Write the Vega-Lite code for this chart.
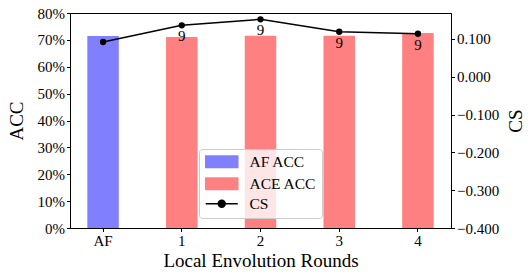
{
  "$schema": "https://vega.github.io/schema/vega-lite/v6.json",
  "width": 381,
  "height": 215,
  "autosize": {"type": "none"},
  "padding": {"left": 70, "top": 13, "right": 81, "bottom": 50},
  "config": {
    "font": "Liberation Serif",
    "view": {"stroke": "black", "strokeWidth": 1},
    "axis": {
      "labelFont": "Liberation Serif",
      "labelFontSize": 15,
      "labelColor": "black",
      "titleFont": "Liberation Serif",
      "titleFontSize": 19,
      "titleFontWeight": "normal",
      "titleColor": "black",
      "domainColor": "black",
      "tickColor": "black",
      "tickSize": 3.5,
      "grid": false,
      "labelPadding": 2
    }
  },
  "data": {
    "values": [
      {"round": "AF", "series": "AF ACC", "acc": 0.7144, "cs": 0.0918, "label": ""},
      {"round": "1", "series": "ACE ACC", "acc": 0.7107, "cs": 0.136, "label": "9"},
      {"round": "2", "series": "ACE ACC", "acc": 0.7155, "cs": 0.1518, "label": "9"},
      {"round": "3", "series": "ACE ACC", "acc": 0.7155, "cs": 0.119, "label": "9"},
      {"round": "4", "series": "ACE ACC", "acc": 0.7256, "cs": 0.1137, "label": "9"}
    ]
  },
  "encoding": {
    "x": {
      "field": "round",
      "type": "nominal",
      "sort": null,
      "scale": {"paddingInner": 0.6, "paddingOuter": 0.22},
      "axis": {"title": "Local Envolution Rounds", "labelAngle": 0, "titlePadding": 3, "labelFont": "Liberation Serif", "labelFontSize": 15}
    }
  },
  "layer": [
    {
      "mark": {"type": "bar"},
      "encoding": {
        "y": {
          "field": "acc",
          "type": "quantitative",
          "scale": {"domain": [0, 0.8], "nice": false},
          "axis": {"title": "ACC", "format": ".0%", "values": [0, 0.1, 0.2, 0.3, 0.4, 0.5, 0.6, 0.7, 0.8], "titlePadding": 11, "labelFont": "Liberation Serif", "labelFontSize": 15}
        },
        "color": {
          "field": "series",
          "type": "nominal",
          "scale": {"domain": ["AF ACC", "ACE ACC", "CS"], "range": ["#8080ff", "#ff8080", "#000000"]},
          "legend": {
            "title": null,
            "orient": "none",
            "legendX": 129,
            "legendY": 136,
            "labelFont": "Liberation Serif",
            "labelFontSize": 15.5,
            "labelColor": "black",
            "symbolSize": 144,
            "symbolOffset": 10,
            "labelOffset": 20,
            "rowPadding": 3,
            "padding": 5,
            "fillColor": "rgba(255,255,255,0.8)",
            "strokeColor": "#cccccc",
            "cornerRadius": 3,
            "symbolStrokeWidth": 1.5,
            "encode": {
              "symbols": {
                "update": {
                  "shape": {"signal": "datum.label === 'CS' ? 'M-2.67,0H2.67M-0.58,0A0.58,0.58 0 1,0 0.58,0A0.58,0.58 0 1,0 -0.58,0Z' : 'M-2.67,-0.97H2.67V0.97H-2.67Z'"},
                  "fill": {"signal": "datum.label === 'AF ACC' ? '#8080ff' : datum.label === 'ACE ACC' ? '#ff8080' : '#000000'"},
                  "stroke": {"signal": "datum.label === 'AF ACC' ? '#8080ff' : datum.label === 'ACE ACC' ? '#ff8080' : '#000000'"},
                  "opacity": {"value": 1}
                }
              }
            }
          }
        }
      }
    },
    {
      "encoding": {
        "y": {
          "field": "cs",
          "type": "quantitative",
          "scale": {"domain": [-0.4, 0.1685], "nice": false},
          "axis": {"title": "CS", "orient": "right", "format": ".3f", "values": [-0.4, -0.3, -0.2, -0.1, 0, 0.1], "titlePadding": 8, "titleAngle": 270, "titleBaseline": "top", "labelFont": "Liberation Serif", "labelFontSize": 15}
        }
      },
      "layer": [
        {"mark": {"type": "line", "color": "black", "strokeWidth": 1.5}},
        {"mark": {"type": "point", "filled": true, "color": "black", "size": 40, "opacity": 1}},
        {"mark": {"type": "text", "dy": 11, "fontSize": 15, "font": "Liberation Serif", "color": "black"}, "encoding": {"text": {"field": "label"}}}
      ]
    }
  ],
  "resolve": {"scale": {"y": "independent"}}
}
